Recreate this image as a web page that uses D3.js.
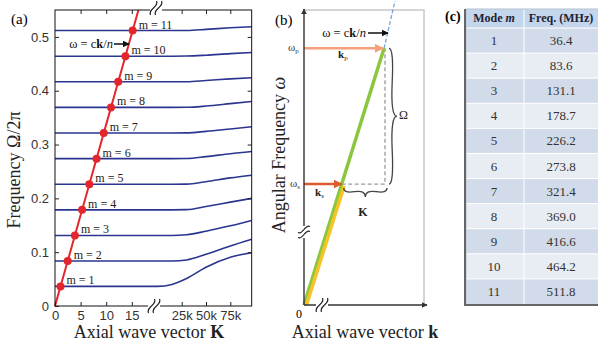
<!DOCTYPE html>
<html>
<head>
<meta charset="utf-8">
<script src="https://cdn.jsdelivr.net/npm/d3@7"></script>
<style>
  body { margin: 0; background: #fff; }
  text { font-family: "Liberation Serif", "Times New Roman", serif; }
  .tick text { font-family: "Liberation Sans", Arial, sans-serif; font-size: 13px; fill: #333; }
  .tick line { stroke: #222; }
</style>
</head>
<body>
<svg id="fig" width="598" height="345"></svg>
<script>
// ---- data ----
const modes = [1, 2, 3, 4, 5, 6, 7, 8, 9, 10, 11];
const freqMHz = [36.4, 83.6, 131.1, 178.7, 226.2, 273.8, 321.4, 369.0, 416.6, 464.2, 511.8];

const kTicksLeft = [0, 5, 10, 15];
const kTicksRight = [25000, 50000, 75000];
const fTicks = [0, 0.1, 0.2, 0.3, 0.4, 0.5];

// right (k-thousands) segment of each mode curve
const kRight = [0, 15000, 30000, 50000, 75000, 97000];
const curveF = [
  [0.0364, 0.0400, 0.0510, 0.0720, 0.0905, 0.0990],
  [0.0836, 0.0836, 0.0855, 0.0960, 0.1115, 0.1240],
  [0.1311, 0.1311, 0.1325, 0.1390, 0.1490, 0.1590],
  [0.1787, 0.1787, 0.1790, 0.1850, 0.1930, 0.2000],
  [0.2262, 0.2262, 0.2265, 0.2310, 0.2380, 0.2430],
  [0.2738, 0.2738, 0.2740, 0.2775, 0.2830, 0.2870],
  [0.3214, 0.3214, 0.3216, 0.3245, 0.3290, 0.3330],
  [0.3690, 0.3690, 0.3692, 0.3715, 0.3760, 0.3800],
  [0.4166, 0.4166, 0.4168, 0.4190, 0.4220, 0.4240],
  [0.4642, 0.4642, 0.4644, 0.4660, 0.4690, 0.4710],
  [0.5118, 0.5118, 0.5120, 0.5140, 0.5170, 0.5190]
];
// light line omega = ck/n
const lightK = [0, 16.3];
const lightF = [0, 0.55];

// panel (b) schematic points [k, omega]
const pumpPt = [0.667, 0.87];
const signalPt = [0.314, 0.41];
const lightExtPt = [0.758, 1.03];
const dashK = 0.675;

// ---- setup ----
const svg = d3.select('#fig');
const defs = svg.append('defs');
function marker(id, color, size) {
  defs.append('marker').attr('id', id)
    .attr('viewBox', '0 0 10 10').attr('refX', 9).attr('refY', 5)
    .attr('markerWidth', size).attr('markerHeight', size)
    .attr('markerUnits', 'userSpaceOnUse').attr('orient', 'auto')
    .append('path').attr('d', 'M0,0 L10,5 L0,10 z').attr('fill', color);
}
marker('arrK', '#111', 7);
marker('arrAx', '#333', 6);
marker('arrP', '#f5a27c', 9);
marker('arrS', '#dd5b2c', 9);

function breakMark(g, x, y, vertical) {
  g.append('rect').attr('x', vertical ? x - 5 : x - 6).attr('y', vertical ? y - 6 : y - 5)
    .attr('width', vertical ? 10 : 12).attr('height', vertical ? 12 : 10).attr('fill', '#fff');
  [-2.5, 2.5].forEach(o => {
    const d = vertical
      ? `M${x - 6},${y + o + 3} C${x - 1},${y + o + 6} ${x + 1},${y + o - 6} ${x + 6},${y + o - 3}`
      : `M${x + o - 3},${y + 7} C${x + o - 6},${y + 1} ${x + o + 6},${y - 1} ${x + o + 3},${y - 7}`;
    g.append('path').attr('d', d).attr('fill', 'none').attr('stroke', '#222').attr('stroke-width', 1.2);
  });
}

function brace(x1, y1, x2, y2, w, q) {
  let dx = x1 - x2, dy = y1 - y2;
  const len = Math.sqrt(dx * dx + dy * dy);
  dx /= len; dy /= len;
  const qx1 = x1 + q * w * dy, qy1 = y1 - q * w * dx;
  const qx2 = (x1 - .25 * len * dx) + (1 - q) * w * dy, qy2 = (y1 - .25 * len * dy) - (1 - q) * w * dx;
  const tx1 = (x1 - .5 * len * dx) + w * dy, ty1 = (y1 - .5 * len * dy) - w * dx;
  const qx3 = x2 + q * w * dy, qy3 = y2 - q * w * dx;
  const qx4 = (x1 - .75 * len * dx) + (1 - q) * w * dy, qy4 = (y1 - .75 * len * dy) - (1 - q) * w * dx;
  return `M${x1},${y1} Q${qx1},${qy1} ${qx2},${qy2} T${tx1},${ty1} M${x2},${y2} Q${qx3},${qy3} ${qx4},${qy4} T${tx1},${ty1}`;
}

// ================= panel (a) =================
const yA = d3.scaleLinear().domain([0, 0.55]).range([306, 10]);
const xL = d3.scaleLinear().domain([0, 20]).range([55, 157.4]);
const xR = d3.scaleLinear().domain([0, 100000]).range([157.4, 254.6]);
const aRight = xR(97000);

const ga = svg.append('g');

const line = d3.line().x(d => d[0]).y(d => d[1]).curve(d3.curveMonotoneX);
curveF.forEach((vals, i) => {
  const f0 = freqMHz[i] / 1000;
  const pts = [[xL(0), yA(f0)], [xL(20), yA(f0)]]
    .concat(kRight.slice(1).map((k, j) => [xR(k), yA(vals[j + 1])]));
  ga.append('path').attr('d', line(pts))
    .attr('fill', 'none').attr('stroke', '#2b3590').attr('stroke-width', 1.6);
});

// light line
ga.append('line')
  .attr('x1', xL(lightK[0])).attr('y1', yA(lightF[0]))
  .attr('x2', xL(lightK[1])).attr('y2', yA(lightF[1]))
  .attr('stroke', '#e3262b').attr('stroke-width', 2);

const slope = lightK[1] / lightF[1];
ga.selectAll('circle.mode').data(modes).enter().append('circle')
  .attr('class', 'mode')
  .attr('cx', (d, i) => xL(freqMHz[i] / 1000 * slope))
  .attr('cy', (d, i) => yA(freqMHz[i] / 1000))
  .attr('r', 4).attr('fill', '#e3262b');

ga.selectAll('text.mlab').data(modes).enter().append('text')
  .attr('class', 'mlab')
  .attr('x', (d, i) => xL(freqMHz[i] / 1000 * slope) + 6)
  .attr('y', (d, i) => yA(freqMHz[i] / 1000) - 2)
  .attr('font-size', 12).attr('fill', '#222')
  .text(d => `m = ${d}`);

// frame
ga.append('rect').attr('x', 55).attr('y', 10).attr('width', aRight - 55).attr('height', 296)
  .attr('fill', 'none').attr('stroke', '#111').attr('stroke-width', 1);

// axes
function clean(g) { g.select('.domain').remove(); }
ga.append('g').attr('transform', 'translate(0,306)')
  .call(d3.axisBottom(xL).tickValues(kTicksLeft).tickSizeInner(-4).tickSizeOuter(0).tickPadding(5)).call(clean);
ga.append('g').attr('transform', 'translate(0,306)')
  .call(d3.axisBottom(xR).tickValues(kTicksRight).tickSizeInner(-4).tickSizeOuter(0).tickPadding(5)
    .tickFormat(d => d / 1000 + 'k')).call(clean);
ga.append('g').attr('transform', 'translate(0,10)')
  .call(d3.axisTop(xL).tickValues(kTicksLeft.slice(1)).tickSizeInner(-4).tickSizeOuter(0).tickFormat('')).call(clean);
ga.append('g').attr('transform', 'translate(0,10)')
  .call(d3.axisTop(xR).tickValues(kTicksRight).tickSizeInner(-4).tickSizeOuter(0).tickFormat('')).call(clean);
ga.append('g').attr('transform', 'translate(55,0)')
  .call(d3.axisLeft(yA).tickValues(fTicks).tickSizeInner(-4).tickSizeOuter(0).tickPadding(6)
    .tickFormat(d => d === 0 ? '0' : d.toFixed(1))).call(clean);
ga.append('g').attr('transform', `translate(${aRight},0)`)
  .call(d3.axisRight(yA).tickValues(fTicks.slice(1)).tickSizeInner(-4).tickSizeOuter(0).tickFormat('')).call(clean);

breakMark(ga, 154, 306, false);
breakMark(ga, 156, 8, false);

// light-line label
const la = ga.append('text').attr('x', 113).attr('y', 48).attr('font-size', 12.5)
  .attr('text-anchor', 'end').attr('fill', '#111');
la.append('tspan').text('ω = c');
la.append('tspan').attr('font-weight', 'bold').text('k');
la.append('tspan').text('/');
la.append('tspan').attr('font-style', 'italic').text('n');
ga.append('line').attr('x1', 114).attr('y1', 44).attr('x2', 129).attr('y2', 44)
  .attr('stroke', '#111').attr('stroke-width', 1.5).attr('marker-end', 'url(#arrK)');

ga.append('text').attr('x', 11).attr('y', 24).attr('font-size', 15).text('(a)');
ga.append('text').attr('transform', 'translate(20,170) rotate(-90)')
  .attr('text-anchor', 'middle').attr('font-size', 18).attr('fill', '#222')
  .text('Frequency Ω/2π');
const xa = ga.append('text').attr('x', 149).attr('y', 338).attr('text-anchor', 'middle')
  .attr('font-size', 18).attr('fill', '#222');
xa.append('tspan').text('Axial wave vector ');
xa.append('tspan').attr('font-weight', 'bold').text('K');

// ================= panel (b) =================
const xB = d3.scaleLinear().domain([0, 1]).range([304, 424]);
const yB = d3.scaleLinear().domain([0, 1]).range([305, 10]);
const gb = svg.append('g');

// light frame
gb.append('path').attr('d', `M${xB(0)},${yB(1)} H${xB(1)} V${yB(0)}`)
  .attr('fill', 'none').attr('stroke', '#c8c8c8').attr('stroke-width', 1.5);

// dashed guides
gb.append('path')
  .attr('d', `M${xB(signalPt[0])},${yB(signalPt[1])} H${xB(dashK)} V${yB(pumpPt[1])}`)
  .attr('fill', 'none').attr('stroke', '#9a9a9a').attr('stroke-width', 1.3).attr('stroke-dasharray', '4,2.5');

// light line extension
gb.append('line').attr('x1', xB(pumpPt[0])).attr('y1', yB(pumpPt[1]))
  .attr('x2', xB(lightExtPt[0])).attr('y2', yB(lightExtPt[1]))
  .attr('stroke', '#6fa8dc').attr('stroke-width', 1.3).attr('stroke-dasharray', '4,2');

// green (pump) and yellow (signal) dispersion segments
gb.append('line').attr('x1', xB(0)).attr('y1', yB(0)).attr('x2', xB(pumpPt[0])).attr('y2', yB(pumpPt[1]))
  .attr('stroke', '#8cc63f').attr('stroke-width', 3.5);
gb.append('line').attr('x1', xB(0) + 2.5).attr('y1', yB(0)).attr('x2', xB(signalPt[0]) + 2.5).attr('y2', yB(signalPt[1]) + 2)
  .attr('stroke', '#f7c428').attr('stroke-width', 3.5);

// k arrows
gb.append('line').attr('x1', xB(0)).attr('y1', yB(pumpPt[1])).attr('x2', xB(pumpPt[0]) - 1).attr('y2', yB(pumpPt[1]))
  .attr('stroke', '#f5a27c').attr('stroke-width', 2.5).attr('marker-end', 'url(#arrP)');
gb.append('line').attr('x1', xB(0)).attr('y1', yB(signalPt[1])).attr('x2', xB(signalPt[0])).attr('y2', yB(signalPt[1]))
  .attr('stroke', '#dd5b2c').attr('stroke-width', 2.5).attr('marker-end', 'url(#arrS)');

// braces
gb.append('path').attr('d', brace(xB(dashK) + 4, yB(signalPt[1]), xB(dashK) + 4, yB(pumpPt[1]), 8, 0.6))
  .attr('fill', 'none').attr('stroke', '#444').attr('stroke-width', 1.3);
gb.append('path').attr('d', brace(xB(signalPt[0]) + 2, yB(signalPt[1]) + 4, xB(dashK) + 2, yB(signalPt[1]) + 4, 9, 0.6))
  .attr('fill', 'none').attr('stroke', '#444').attr('stroke-width', 1.3);
gb.append('text').attr('x', 399).attr('y', 119).attr('font-size', 12).attr('fill', '#222').text('Ω');
gb.append('text').attr('x', 363).attr('y', 216).attr('font-size', 12).attr('font-weight', 'bold')
  .attr('text-anchor', 'middle').attr('fill', '#222').text('K');

// axes with arrows
gb.append('line').attr('x1', xB(0)).attr('y1', yB(0)).attr('x2', xB(0)).attr('y2', yB(1) - 1)
  .attr('stroke', '#333').attr('stroke-width', 1.4).attr('marker-end', 'url(#arrAx)');
gb.append('line').attr('x1', xB(0)).attr('y1', yB(0)).attr('x2', xB(1) + 3).attr('y2', yB(0))
  .attr('stroke', '#333').attr('stroke-width', 1.4).attr('marker-end', 'url(#arrAx)');
breakMark(gb, xB(0), 232, true);
breakMark(gb, 322, yB(0), false);

// labels
function omegaLab(x, y, sub) {
  const t = gb.append('text').attr('x', x).attr('y', y).attr('font-size', 11).attr('fill', '#333');
  t.append('tspan').text('ω');
  t.append('tspan').attr('font-size', 7).attr('dy', 2).text(sub);
}
omegaLab(288, yB(pumpPt[1]) + 3, 'p');
omegaLab(290, yB(signalPt[1]) + 3, 's');
function kLab(x, y, sub) {
  const t = gb.append('text').attr('x', x).attr('y', y).attr('font-size', 11).attr('fill', '#222');
  t.append('tspan').attr('font-weight', 'bold').text('k');
  t.append('tspan').attr('font-size', 7).attr('dy', 2).text(sub);
}
kLab(338, 58, 'p');
kLab(315, 196, 's');
gb.append('text').attr('x', 299).attr('y', 318).attr('font-size', 12).attr('text-anchor', 'middle').text('0');

const lb = gb.append('text').attr('x', 366).attr('y', 37).attr('font-size', 12.5)
  .attr('text-anchor', 'end').attr('fill', '#111');
lb.append('tspan').text('ω = c');
lb.append('tspan').attr('font-weight', 'bold').text('k');
lb.append('tspan').text('/');
lb.append('tspan').attr('font-style', 'italic').text('n');
gb.append('line').attr('x1', 368).attr('y1', 33).attr('x2', 388).attr('y2', 33)
  .attr('stroke', '#111').attr('stroke-width', 1.5).attr('marker-end', 'url(#arrK)');

gb.append('text').attr('x', 275).attr('y', 25).attr('font-size', 15).text('(b)');
const yb = gb.append('text').attr('transform', 'translate(285,155) rotate(-90)')
  .attr('text-anchor', 'middle').attr('font-size', 18).attr('fill', '#222');
yb.append('tspan').text('Angular Frequency ');
yb.append('tspan').attr('font-style', 'italic').text('ω');
const xb = gb.append('text').attr('x', 365).attr('y', 338).attr('text-anchor', 'middle')
  .attr('font-size', 18).attr('fill', '#222');
xb.append('tspan').text('Axial wave vector ');
xb.append('tspan').attr('font-weight', 'bold').text('k');

// ================= panel (c) =================
const gc = svg.append('g');
const colX = [466, 524, 600];
const rowY = d3.scaleBand().domain(modes).range([28, 304]);
gc.append('text').attr('x', 445).attr('y', 21).attr('font-size', 14).attr('font-weight', 'bold').text('(c)');

gc.append('rect').attr('x', colX[0]).attr('y', 9).attr('width', colX[2] - colX[0]).attr('height', 19)
  .attr('fill', '#c3d6ec');
gc.selectAll('rect.row').data(modes).enter().append('rect').attr('class', 'row')
  .attr('x', colX[0]).attr('y', d => rowY(d))
  .attr('width', colX[2] - colX[0]).attr('height', rowY.bandwidth())
  .attr('fill', (d, i) => i % 2 === 0 ? '#d2dbea' : '#e8ecf3');
// white separators
gc.selectAll('line.sep').data(modes).enter().append('line').attr('class', 'sep')
  .attr('x1', colX[0]).attr('x2', colX[2]).attr('y1', d => rowY(d)).attr('y2', d => rowY(d))
  .attr('stroke', '#fff').attr('stroke-width', 1);
gc.append('line').attr('x1', colX[1]).attr('x2', colX[1]).attr('y1', 9).attr('y2', 304)
  .attr('stroke', '#fff').attr('stroke-width', 1);

const hdr = gc.append('text').attr('x', (colX[0] + colX[1]) / 2 - 1).attr('y', 22)
  .attr('text-anchor', 'middle').attr('font-size', 12).attr('font-weight', 'bold').attr('fill', '#223');
hdr.append('tspan').text('Mode ');
hdr.append('tspan').attr('font-style', 'italic').text('m');
gc.append('text').attr('x', 561).attr('y', 22).attr('text-anchor', 'middle')
  .attr('font-size', 12).attr('font-weight', 'bold').attr('fill', '#223').text('Freq. (MHz)');

gc.selectAll('text.mode').data(modes).enter().append('text').attr('class', 'mode')
  .attr('x', 494).attr('y', d => rowY(d) + rowY.bandwidth() / 2 + 4.5)
  .attr('text-anchor', 'middle').attr('font-size', 13).attr('fill', '#333').text(d => d);
gc.selectAll('text.freq').data(freqMHz).enter().append('text').attr('class', 'freq')
  .attr('x', 561).attr('y', (d, i) => rowY(modes[i]) + rowY.bandwidth() / 2 + 4.5)
  .attr('text-anchor', 'middle').attr('font-size', 13).attr('fill', '#333').text(d => d.toFixed(1));

// borders
gc.append('rect').attr('x', colX[0]).attr('y', 9).attr('width', colX[2] - colX[0]).attr('height', 296)
  .attr('fill', 'none').attr('stroke', '#b8c2cf').attr('stroke-width', 1);
gc.append('path').attr('d', `M${colX[0] - 1},9 V305 H600`)
  .attr('fill', 'none').attr('stroke', '#666').attr('stroke-width', 2);
</script>
</body>
</html>
